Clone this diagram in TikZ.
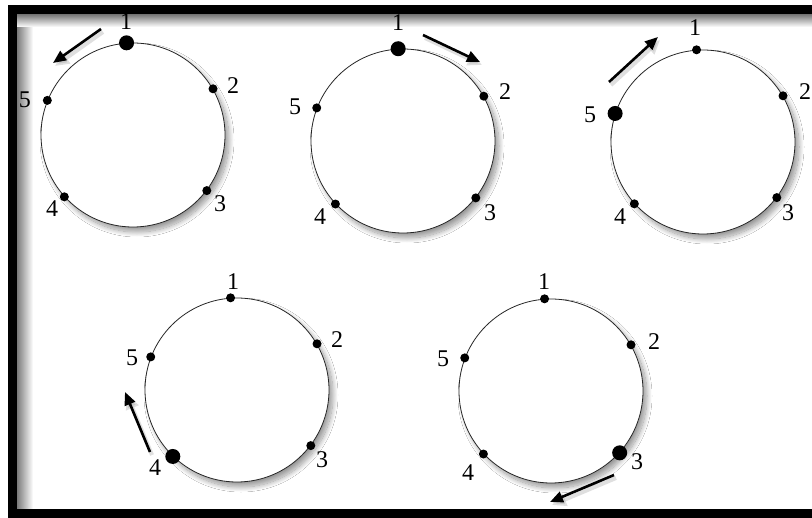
\documentclass[tikz,border=0pt]{standalone}
\usepackage{fontspec}
\setmainfont{Liberation Serif}
\usetikzlibrary{arrows.meta,shadows.blur}
\begin{document}
\begin{tikzpicture}[x=1pt,y=-1pt,
  ring/.style={circle, draw=black!85, line width=0.8pt, fill=white, minimum size=184pt, inner sep=0pt,
    blur shadow={shadow xshift=4pt, shadow yshift=-5pt, shadow blur radius=5pt, shadow blur steps=14, shadow opacity=40}},
  dot/.style={circle, fill=black, inner sep=0pt, minimum size=9pt},
  bigdot/.style={circle, fill=black, inner sep=0pt, minimum size=15pt},
  lbl/.style={font=\fontsize{24}{26}\selectfont, inner sep=0pt},
  mv/.style={line width=2.6pt, -{Triangle[length=13pt,width=11pt]}},
  mvshadow/.style={line width=4pt, draw=black!50, opacity=0.25, -{Triangle[length=14pt,width=13pt]}}
]
\useasboundingbox (0,0) rectangle (812,518);
\fill[white] (0,0) rectangle (812,518);
% frame inner shadow
\shade[left color=black!55, right color=white] (16,14) rectangle (33,510);
\shade[top color=black!55, bottom color=white] (16,14) rectangle (812,27);
% frame
\draw[line width=9pt, miter limit=10] (830,9.5) -- (12,9.5) -- (12,514) -- (830,514);

% circles
\node[ring] (c1) at (133,135) {};
\node[ring] (c2) at (403,141) {};
\node[ring] (c3) at (703,142) {};
\node[ring] (c4) at (237,390) {};
\node[ring] (c5) at (551,391) {};

% circle 1
\node[bigdot] (c1d1) at (c1.94) {};
\node[dot] (c1d2) at (c1.30) {};
\node[dot] (c1d3) at (c1.-37) {};
\node[dot] (c1d4) at (c1.222) {};
\node[dot] (c1d5) at (c1.158) {};
\node[lbl] (c1l1) at (126,22) {1};
\node[lbl] (c1l2) at (233,86) {2};
\node[lbl] (c1l3) at (220,204) {3};
\node[lbl] (c1l4) at (52,209) {4};
\node[lbl] (c1l5) at (25,100) {5};
\coordinate (a1s) at (101,29);
\coordinate (a1e) at (53,63);

% circle 2
\node[bigdot] (c2d1) at (c2.93) {};
\node[dot] (c2d2) at (c2.29) {};
\node[dot] (c2d3) at (c2.-38) {};
\node[dot] (c2d4) at (c2.223) {};
\node[dot] (c2d5) at (c2.159) {};
\node[lbl] (c2l1) at (398,23) {1};
\node[lbl] (c2l2) at (505,92) {2};
\node[lbl] (c2l3) at (490,213) {3};
\node[lbl] (c2l4) at (320,217) {4};
\node[lbl] (c2l5) at (295,107) {5};
\coordinate (a2s) at (423,35);
\coordinate (a2e) at (480,62);

% circle 3
\node[dot] (c3d1) at (c3.94) {};
\node[dot] (c3d2) at (c3.30) {};
\node[dot] (c3d3) at (c3.-37) {};
\node[dot] (c3d4) at (c3.222) {};
\node[bigdot] (c3d5) at (c3.162) {};
\node[lbl] (c3l1) at (695,28) {1};
\node[lbl] (c3l2) at (805,92) {2};
\node[lbl] (c3l3) at (788,213) {3};
\node[lbl] (c3l4) at (620,217) {4};
\node[lbl] (c3l5) at (590,115) {5};
\coordinate (a3s) at (609,82);
\coordinate (a3e) at (658,37);

% circle 4
\node[dot] (c4d1) at (c4.94) {};
\node[dot] (c4d2) at (c4.30) {};
\node[dot] (c4d3) at (c4.-37) {};
\node[bigdot] (c4d4) at (c4.226) {};
\node[dot] (c4d5) at (c4.159) {};
\node[lbl] (c4l1) at (233,282) {1};
\node[lbl] (c4l2) at (337,340) {2};
\node[lbl] (c4l3) at (322,460) {3};
\node[lbl] (c4l4) at (155,468) {4};
\node[lbl] (c4l5) at (132,358) {5};
\coordinate (a4s) at (150,452);
\coordinate (a4e) at (125,392);

% circle 5
\node[dot] (c5d1) at (c5.94) {};
\node[dot] (c5d2) at (c5.30) {};
\node[bigdot] (c5d3) at (c5.-42) {};
\node[dot] (c5d4) at (c5.223) {};
\node[dot] (c5d5) at (c5.159) {};
\node[lbl] (c5l1) at (544,282) {1};
\node[lbl] (c5l2) at (654,342) {2};
\node[lbl] (c5l3) at (637,462) {3};
\node[lbl] (c5l4) at (468,473) {4};
\node[lbl] (c5l5) at (443,359) {5};
\coordinate (a5s) at (614,475);
\coordinate (a5e) at (550,502);

% arrow shadows
\foreach \a in {1,...,5}{
  \draw[mvshadow] ([shift={(2pt,-3pt)}]a\a s) -- ([shift={(2pt,-3pt)}]a\a e);
}
% arrows
\foreach \a in {1,...,5}{
  \draw[mv] (a\a s) -- (a\a e);
}
\end{tikzpicture}
\end{document}
